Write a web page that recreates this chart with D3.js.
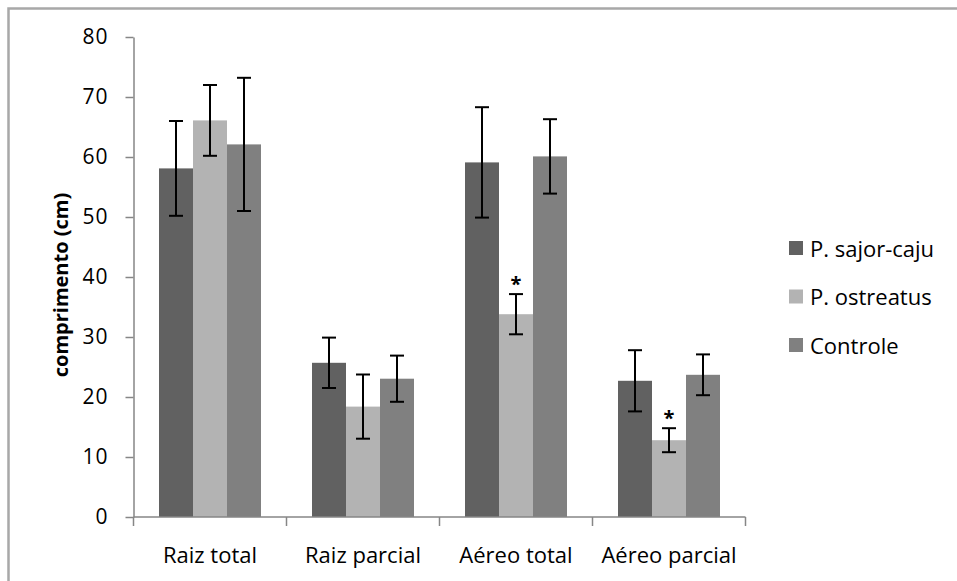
<!DOCTYPE html>
<html>
<head>
<meta charset="utf-8">
<script src="https://cdn.jsdelivr.net/npm/d3@7"></script>
<style>
  html, body { margin: 0; padding: 0; background: #fff; }
  svg { display: block; }
  text { font-family: "Open Sans", sans-serif; fill: #000; }
</style>
</head>
<body>
<svg id="chart" width="957" height="581"></svg>
<script>
// Comprimento médio (cm) por tratamento, com desvio
const categories = ["Raiz total", "Raiz parcial", "Aéreo total", "Aéreo parcial"];
const seriesNames = ["P. sajor-caju", "P. ostreatus", "Controle"];
const sajorCaju = [58.1, 25.7, 59.1, 22.7];
const sajorCajuErr = [7.9, 4.2, 9.2, 5.1];
const ostreatus = [66.1, 18.4, 33.8, 12.8];
const ostreatusErr = [5.9, 5.35, 3.35, 2.0];
const controle = [62.1, 23.05, 60.1, 23.7];
const controleErr = [11.1, 3.85, 6.2, 3.4];
// asterisco de significância: [série, categoria]
const significant = [["P. ostreatus", "Aéreo total"], ["P. ostreatus", "Aéreo parcial"]];
const yTicks = [0, 10, 20, 30, 40, 50, 60, 70, 80];
const yLabel = "comprimento (cm)";

const colors = { "P. sajor-caju": "#616161", "P. ostreatus": "#b3b3b3", "Controle": "#808080" };
const valuesBy = { "P. sajor-caju": sajorCaju, "P. ostreatus": ostreatus, "Controle": controle };
const errBy = { "P. sajor-caju": sajorCajuErr, "P. ostreatus": ostreatusErr, "Controle": controleErr };

const svg = d3.select("#chart");

// moldura externa da área do gráfico
svg.append("rect")
  .attr("x", 8.5).attr("y", 8.5)
  .attr("width", 1000).attr("height", 620)
  .attr("fill", "none").attr("stroke", "#a8a8a8").attr("stroke-width", 2.5);

const y = d3.scaleLinear().domain([0, 80]).range([517, 37]);
const x0 = d3.scaleBand().domain(categories).range([133.5, 745.5]).paddingInner(0).paddingOuter(0);
const x1 = d3.scaleBand().domain(seriesNames).range([0, x0.bandwidth()]).paddingInner(0).paddingOuter(0.75);

const rows = [];
categories.forEach((c, i) => {
  seriesNames.forEach(s => {
    rows.push({ cat: c, series: s, value: valuesBy[s][i], err: errBy[s][i] });
  });
});

// barras
svg.append("g").selectAll("rect")
  .data(rows).join("rect")
  .attr("x", d => x0(d.cat) + x1(d.series))
  .attr("y", d => y(d.value))
  .attr("width", x1.bandwidth())
  .attr("height", d => y(0) - y(d.value))
  .attr("fill", d => colors[d.series]);

// eixo Y
const yAxis = svg.append("g")
  .attr("transform", `translate(${x0.range()[0]},0)`)
  .call(d3.axisLeft(y).tickValues(yTicks).tickSize(8).tickPadding(17).tickSizeOuter(0));
yAxis.select(".domain").attr("stroke", "#868686").attr("stroke-width", 1.5);
yAxis.selectAll(".tick line").attr("stroke", "#868686").attr("stroke-width", 1.5);
yAxis.selectAll(".tick text")
  .attr("font-family", "Open Sans, sans-serif")
  .attr("font-size", 21).attr("letter-spacing", 1).attr("fill", "#000");

// eixo X com marcas entre categorias
const xAxisG = svg.append("g").attr("transform", `translate(0,${y(0)})`);
xAxisG.append("line")
  .attr("x1", x0.range()[0]).attr("x2", x0.range()[1])
  .attr("stroke", "#868686").attr("stroke-width", 1.5);
const boundaries = categories.map(c => x0(c)).concat([x0.range()[1]]);
xAxisG.selectAll("line.tk").data(boundaries).join("line")
  .attr("class", "tk")
  .attr("x1", d => d).attr("x2", d => d)
  .attr("y1", 0).attr("y2", 9)
  .attr("stroke", "#868686").attr("stroke-width", 1.5);
xAxisG.selectAll("text").data(categories).join("text")
  .attr("x", d => x0(d) + x0.bandwidth() / 2)
  .attr("y", 46)
  .attr("text-anchor", "middle")
  .attr("font-size", 22)
  .text(d => d);

// barras de erro
const errG = svg.append("g").attr("stroke", "#000").attr("stroke-width", 2);
rows.forEach(d => {
  const cx = x0(d.cat) + x1(d.series) + x1.bandwidth() / 2;
  const yt = y(d.value + d.err), yb = y(d.value - d.err);
  errG.append("line").attr("x1", cx).attr("x2", cx).attr("y1", yt).attr("y2", yb);
  errG.append("line").attr("x1", cx - 7).attr("x2", cx + 7).attr("y1", yt).attr("y2", yt);
  errG.append("line").attr("x1", cx - 7).attr("x2", cx + 7).attr("y1", yb).attr("y2", yb);
});

// asteriscos
svg.append("g").selectAll("text")
  .data(significant).join("text")
  .attr("x", d => x0(d[1]) + x1(d[0]) + x1.bandwidth() / 2)
  .attr("y", d => {
    const i = categories.indexOf(d[1]);
    return y(valuesBy[d[0]][i] + errBy[d[0]][i]) - 3;
  })
  .attr("text-anchor", "middle")
  .attr("font-size", 20).attr("font-weight", "bold")
  .text("*");

// título do eixo Y
svg.append("text")
  .attr("transform", "translate(68,285) rotate(-90)")
  .attr("text-anchor", "middle")
  .attr("font-size", 20).attr("font-weight", "bold")
  .text(yLabel);

// legenda
const legend = svg.append("g").selectAll("g")
  .data(seriesNames).join("g")
  .attr("transform", (d, i) => `translate(789,${241 + i * 48.5})`);
legend.append("rect").attr("width", 14).attr("height", 14).attr("fill", d => colors[d]);
legend.append("text").attr("x", 21).attr("y", 15.5).attr("font-size", 22).text(d => d);
</script>
</body>
</html>
